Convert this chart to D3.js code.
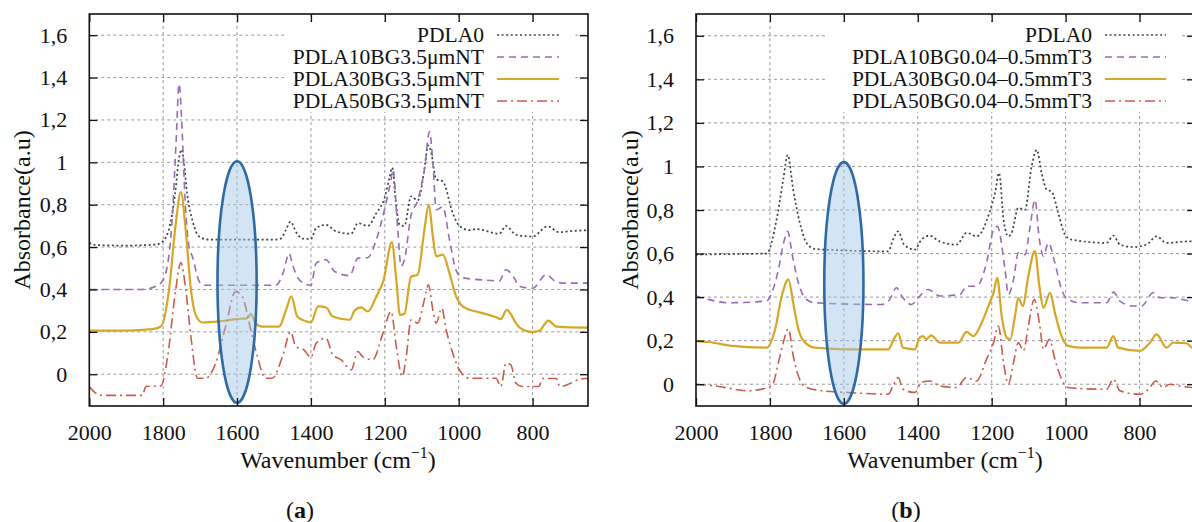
<!DOCTYPE html>
<html><head><meta charset="utf-8">
<script src="https://cdn.jsdelivr.net/npm/d3@7"></script>
<style>body{margin:0;background:#fff}svg{display:block}text{font-family:"Liberation Serif","Times New Roman",serif;fill:#111}</style>
</head><body><svg id="c" width="1192" height="522"></svg>
<script>
// ---- data: [wavenumber, absorbance] ----
const seriesNames = ["PDLA0", "PDLA10", "PDLA30", "PDLA50"];
const legendA = ["PDLA0", "PDLA10BG3.5μmNT", "PDLA30BG3.5μmNT", "PDLA50BG3.5μmNT"];
const legendB = ["PDLA0", "PDLA10BG0.04–0.5mmT3", "PDLA30BG0.04–0.5mmT3", "PDLA50BG0.04–0.5mmT3"];
const xTicks = [2000, 1800, 1600, 1400, 1200, 1000, 800];
const yTicks = [0, 0.2, 0.4, 0.6, 0.8, 1, 1.2, 1.4, 1.6];
const panelLabels = ["a", "b"];

const a_PDLA0 = [[2000,0.62],[1985,0.61],[1900,0.607],[1820,0.612],[1806,0.62],[1785,0.68],[1768,0.85],[1756,1.03],[1750,1.06],[1744,1.0],[1735,0.85],[1720,0.72],[1703,0.65],[1676,0.635],[1600,0.635],[1500,0.635],[1482,0.64],[1468,0.68],[1455,0.72],[1440,0.67],[1423,0.64],[1400,0.638],[1386,0.69],[1359,0.705],[1332,0.674],[1291,0.663],[1273,0.713],[1246,0.70],[1223,0.76],[1201,0.83],[1187,0.93],[1180,0.975],[1169,0.79],[1160,0.705],[1147,0.70],[1129,0.84],[1111,0.82],[1093,0.965],[1083,1.08],[1075,1.05],[1061,0.92],[1043,0.91],[1016,0.76],[998,0.70],[971,0.68],[953,0.685],[890,0.663],[872,0.70],[845,0.658],[800,0.65],[759,0.698],[728,0.67],[700,0.675],[650,0.68]];
const a_PDLA10 = [[2000,0.40],[1900,0.40],[1856,0.40],[1820,0.415],[1806,0.43],[1790,0.5],[1775,0.75],[1765,1.1],[1757,1.37],[1750,1.2],[1740,0.8],[1730,0.6],[1721,0.556],[1703,0.44],[1690,0.42],[1600,0.42],[1495,0.42],[1475,0.48],[1459,0.57],[1450,0.52],[1440,0.47],[1420,0.43],[1400,0.42],[1386,0.524],[1359,0.54],[1336,0.485],[1295,0.465],[1273,0.548],[1246,0.55],[1223,0.635],[1201,0.776],[1183,0.92],[1178,0.965],[1165,0.68],[1156,0.51],[1147,0.54],[1129,0.75],[1111,0.82],[1093,0.965],[1079,1.145],[1070,1.0],[1061,0.776],[1043,0.79],[1025,0.635],[1007,0.49],[989,0.455],[935,0.445],[890,0.44],[872,0.493],[850,0.455],[836,0.414],[800,0.406],[763,0.47],[740,0.44],[719,0.43],[650,0.43]];
const a_PDLA30 = [[2000,0.206],[1900,0.206],[1829,0.213],[1806,0.225],[1784,0.40],[1766,0.71],[1752,0.86],[1739,0.68],[1725,0.40],[1712,0.28],[1694,0.244],[1649,0.249],[1604,0.26],[1572,0.265],[1563,0.285],[1550,0.241],[1532,0.225],[1486,0.225],[1468,0.30],[1453,0.367],[1437,0.272],[1414,0.25],[1400,0.244],[1381,0.32],[1359,0.315],[1341,0.272],[1295,0.257],[1282,0.30],[1264,0.315],[1246,0.296],[1223,0.367],[1204,0.44],[1181,0.622],[1169,0.446],[1159,0.28],[1147,0.285],[1129,0.46],[1111,0.47],[1093,0.68],[1081,0.80],[1070,0.65],[1061,0.556],[1043,0.564],[1025,0.477],[1007,0.367],[994,0.328],[971,0.304],[953,0.296],[899,0.269],[886,0.26],[870,0.304],[845,0.241],[835,0.22],[803,0.20],[783,0.204],[757,0.253],[736,0.225],[659,0.22],[650,0.22]];
const a_PDLA50 = [[2000,-0.058],[1982,-0.09],[1964,-0.10],[1856,-0.10],[1847,-0.058],[1806,-0.055],[1788,0.083],[1766,0.40],[1752,0.527],[1739,0.40],[1725,0.178],[1707,-0.019],[1685,-0.019],[1658,0.052],[1631,0.225],[1604,0.39],[1586,0.367],[1563,0.21],[1545,0.083],[1523,-0.019],[1505,-0.019],[1477,0.083],[1455,0.20],[1441,0.13],[1419,0.115],[1400,0.079],[1386,0.146],[1359,0.17],[1341,0.091],[1318,0.068],[1291,0.02],[1273,0.107],[1260,0.083],[1233,0.068],[1205,0.194],[1183,0.296],[1169,0.131],[1153,-0.011],[1142,0.083],[1129,0.257],[1111,0.241],[1093,0.351],[1082,0.422],[1070,0.304],[1061,0.241],[1046,0.312],[1034,0.21],[1016,0.099],[998,0.02],[971,-0.019],[899,-0.019],[886,-0.058],[872,0.052],[859,0.044],[845,-0.043],[829,-0.058],[783,-0.058],[773,-0.02],[736,-0.02],[726,-0.058],[659,-0.02],[650,-0.02]];

const b_PDLA0 = [[2000,0.595],[1900,0.598],[1809,0.60],[1782,0.756],[1764,0.94],[1752,1.053],[1737,0.893],[1719,0.74],[1701,0.649],[1678,0.621],[1606,0.615],[1480,0.61],[1467,0.664],[1453,0.702],[1437,0.641],[1408,0.618],[1390,0.664],[1368,0.682],[1341,0.656],[1295,0.641],[1268,0.695],[1241,0.679],[1205,0.794],[1191,0.878],[1180,0.97],[1168,0.756],[1155,0.679],[1146,0.695],[1128,0.81],[1110,0.80],[1092,1.0],[1078,1.076],[1065,0.97],[1051,0.893],[1038,0.885],[1020,0.786],[1002,0.687],[984,0.664],[889,0.649],[871,0.682],[853,0.641],[817,0.63],[781,0.641],[754,0.679],[727,0.649],[664,0.656],[650,0.656]];
const b_PDLA10 = [[2000,0.405],[1966,0.389],[1912,0.374],[1809,0.382],[1795,0.42],[1777,0.527],[1764,0.641],[1752,0.702],[1739,0.588],[1723,0.466],[1701,0.389],[1678,0.374],[1498,0.366],[1476,0.389],[1458,0.443],[1440,0.397],[1417,0.366],[1399,0.397],[1373,0.435],[1340,0.405],[1286,0.412],[1268,0.45],[1241,0.45],[1214,0.557],[1195,0.71],[1185,0.725],[1164,0.527],[1155,0.412],[1141,0.48],[1128,0.603],[1110,0.595],[1096,0.725],[1083,0.847],[1071,0.664],[1060,0.588],[1047,0.649],[1029,0.557],[1011,0.435],[993,0.389],[961,0.374],[889,0.374],[871,0.423],[853,0.382],[817,0.359],[795,0.359],[763,0.42],[745,0.397],[709,0.397],[664,0.382],[650,0.38]];
const b_PDLA30 = [[2000,0.198],[1966,0.194],[1903,0.176],[1809,0.168],[1786,0.252],[1768,0.405],[1750,0.481],[1737,0.374],[1723,0.252],[1705,0.191],[1678,0.168],[1588,0.16],[1480,0.16],[1465,0.206],[1453,0.234],[1440,0.168],[1408,0.16],[1395,0.214],[1386,0.221],[1377,0.206],[1364,0.224],[1340,0.191],[1290,0.191],[1268,0.24],[1250,0.221],[1227,0.282],[1209,0.359],[1195,0.42],[1185,0.489],[1173,0.313],[1159,0.214],[1150,0.206],[1137,0.313],[1128,0.397],[1116,0.359],[1101,0.496],[1083,0.611],[1071,0.45],[1060,0.351],[1042,0.42],[1029,0.328],[1011,0.221],[993,0.176],[961,0.168],[889,0.168],[871,0.221],[858,0.168],[799,0.153],[772,0.191],[754,0.229],[727,0.168],[709,0.191],[673,0.188],[658,0.168],[650,0.165]];
const b_PDLA50 = [[2000,0],[1948,-0.008],[1858,-0.03],[1795,-0.008],[1777,0.099],[1764,0.191],[1750,0.255],[1737,0.13],[1723,0.038],[1701,-0.015],[1660,-0.03],[1588,-0.038],[1480,-0.046],[1467,-0.008],[1453,0.031],[1440,-0.023],[1408,-0.038],[1390,0.008],[1368,0.015],[1340,-0.008],[1295,-0.015],[1268,0.031],[1241,0.015],[1214,0.115],[1195,0.191],[1182,0.267],[1168,0.099],[1155,0],[1141,0.099],[1128,0.191],[1114,0.153],[1101,0.267],[1085,0.389],[1071,0.282],[1060,0.16],[1044,0.206],[1029,0.115],[1011,0.023],[993,-0.015],[961,-0.02],[889,-0.023],[871,0.023],[853,-0.03],[799,-0.046],[776,-0.023],[756,0.015],[736,-0.015],[718,0],[691,-0.008],[658,-0.015],[650,-0.015]];

// highlighted band (ellipse) in data units: center wavenumber, half width, bottom, top
const ellipseA = [1600, 53, -0.135, 1.005];
const ellipseB = [1600, 53, -0.09, 1.02];

// ---- styles ----
const styles = [
  {color:"#33434a", dash:"2,2.6", width:1.7},
  {color:"#9a6bb4", dash:"7,5", width:1.6},
  {color:"#d8a626", dash:null, width:2.2},
  {color:"#c95c4c", dash:"10,4,2,4", width:1.6}
];

const svg = d3.select("#c");
const panels = [
  {label:"a", left:89.3, right:588, top:14, bottom:406, yDom:[-0.15,1.7], data:[a_PDLA0,a_PDLA10,a_PDLA30,a_PDLA50], legend:legendA, ell:ellipseA,
   leg:{textX:484, s0:497, s1:559, box:[284,22,574,112]}, yLabX:30, xLabX:338, capX:300},
  {label:"b", left:696, right:1195, top:14, bottom:406, yDom:[-0.1,1.7], data:[b_PDLA0,b_PDLA10,b_PDLA30,b_PDLA50], legend:legendB, ell:ellipseB,
   leg:{textX:1092, s0:1105, s1:1166, box:[828,22,1179,112]}, yLabX:638, xLabX:945, capX:906}
];

const fmt = v => v === 0 ? "0" : (Number.isInteger(v) ? String(v) : v.toFixed(1).replace(".", ","));

panels.forEach((p, i) => {
  const x = d3.scaleLinear().domain([2000, 650]).range([p.left, p.right]);
  const y = d3.scaleLinear().domain(p.yDom).range([p.bottom, p.top]);
  const g = svg.append("g");
  const clipId = "clip" + i;
  svg.append("clipPath").attr("id", clipId).append("rect")
    .attr("x", p.left).attr("y", p.top).attr("width", p.right - p.left).attr("height", p.bottom - p.top);

  // grid
  const grid = g.append("g").attr("stroke", "#9a9a9a").attr("stroke-width", 1).attr("stroke-dasharray", "3,3");
  yTicks.forEach(t => grid.append("line").attr("x1", p.left).attr("x2", p.right).attr("y1", y(t)).attr("y2", y(t)));
  xTicks.slice(1).forEach(t => grid.append("line").attr("x1", x(t)).attr("x2", x(t)).attr("y1", p.top).attr("y2", p.bottom));

  // legend background (hides grid)
  const b = p.leg.box;
  g.append("rect").attr("x", b[0]).attr("y", b[1]).attr("width", b[2]-b[0]).attr("height", b[3]-b[1]).attr("fill", "#fff");

  // curves
  const line = d3.line().x(d => x(d[0])).y(d => y(d[1])).curve(d3.curveMonotoneX);
  const cg = g.append("g").attr("clip-path", `url(#${clipId})`);
  p.data.forEach((ser, k) => {
    const s = styles[k];
    cg.append("path").datum(ser).attr("d", line).attr("fill", "none")
      .attr("stroke", s.color).attr("stroke-width", s.width)
      .attr("stroke-dasharray", s.dash).attr("stroke-linejoin", "round");
  });

  // ellipse
  const e = p.ell;
  const cx = x(e[0]), rx = Math.abs(x(e[0] + e[1]) - x(e[0]));
  const cy = (y(e[2]) + y(e[3])) / 2, ry = Math.abs(y(e[2]) - y(e[3])) / 2;
  g.append("ellipse").attr("cx", cx).attr("cy", cy).attr("rx", rx).attr("ry", ry)
    .attr("fill", "#9dc3e6").attr("fill-opacity", 0.45).attr("stroke", "#2f6aa3").attr("stroke-width", 2.6);

  // axes frame + ticks
  const ax = g.append("g");
  const bottomAxis = d3.axisBottom(x).tickValues(xTicks).tickSize(-8).tickPadding(18).tickFormat(d3.format("d"));
  const topAxis = d3.axisTop(x).tickValues(xTicks).tickSize(-8).tickFormat("");
  const leftAxis = d3.axisLeft(y).tickValues(yTicks).tickSize(-8).tickPadding(22).tickFormat(fmt);
  const rightAxis = d3.axisRight(y).tickValues(yTicks).tickSize(-8).tickFormat("");
  [[bottomAxis, `translate(0,${p.bottom})`], [topAxis, `translate(0,${p.top})`],
   [leftAxis, `translate(${p.left},0)`], [rightAxis, `translate(${p.right},0)`]].forEach(([a, tr]) => {
    const gg = ax.append("g").attr("transform", tr).call(a);
    gg.attr("font-family", null);
    gg.select(".domain").remove();
    gg.selectAll(".tick line").attr("stroke", "#111").attr("stroke-width", 1.3);
    gg.selectAll("text").attr("font-size", 22).attr("fill", "#111");
  });
  ax.append("rect").attr("x", p.left).attr("y", p.top).attr("width", p.right - p.left).attr("height", p.bottom - p.top)
    .attr("fill", "none").attr("stroke", "#111").attr("stroke-width", 1.6);

  // legend
  const lg = g.append("g");
  p.legend.forEach((name, k) => {
    const ry2 = 35 + k * 22;
    lg.append("text").attr("x", p.leg.textX).attr("y", ry2 + 7).attr("text-anchor", "end")
      .attr("font-size", 21.5).text(name);
    const s = styles[k];
    lg.append("line").attr("x1", p.leg.s0).attr("x2", p.leg.s1).attr("y1", ry2).attr("y2", ry2)
      .attr("stroke", s.color).attr("stroke-width", s.width).attr("stroke-dasharray", s.dash);
  });

  // axis labels
  g.append("text").attr("transform", `translate(${p.yLabX},210) rotate(-90)`).attr("text-anchor", "middle")
    .attr("font-size", 24).text("Absorbance(a.u)");
  const xl = g.append("text").attr("x", p.xLabX).attr("y", 468).attr("text-anchor", "middle").attr("font-size", 24);
  xl.append("tspan").text("Wavenumber (cm");
  xl.append("tspan").attr("dy", -10).attr("font-size", 16).text("−1");
  xl.append("tspan").attr("dy", 10).text(")");

  const cap = g.append("text").attr("x", p.capX).attr("y", 518).attr("text-anchor", "middle").attr("font-size", 24);
  cap.append("tspan").text("(");
  cap.append("tspan").attr("font-weight", "bold").text(p.label);
  cap.append("tspan").text(")");
});
</script></body></html>
